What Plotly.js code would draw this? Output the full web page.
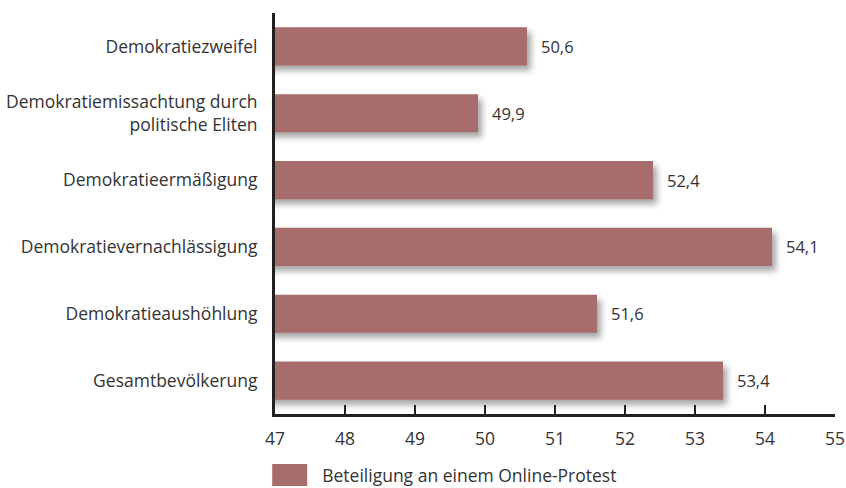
<!DOCTYPE html>
<html><head><meta charset="utf-8">
<script src="https://cdn.plot.ly/plotly-3.0.1.min.js"></script>
<style>
html,body{margin:0;padding:0;background:#fff;}
.trace.bars .point path{filter:drop-shadow(4px 5px 3px rgba(0,0,0,0.35));}
</style>
</head><body>
<div id="chart" style="width:846px;height:488px;"></div>
<script>
const categories = ["Demokratiezweifel","Demokratiemissachtung durch<br>politische Eliten","Demokratieermäßigung","Demokratievernachlässigung","Demokratieaushöhlung","Gesamtbevölkerung"];
const values = [50.6, 49.9, 52.4, 54.1, 51.6, 53.4];
const tickVals = [47,48,49,50,51,52,53,54,55];
const seriesName = "Beteiligung an einem Online-Protest";

const trace = {
  type: 'bar', orientation: 'h',
  y: categories, x: values,
  name: seriesName, showlegend: true,
  marker: {color: '#a76c6c', line: {width: 0}},
  width: 0.57,
  texttemplate: '\u2002\u2009%{x:.1f}', textposition: 'outside', cliponaxis: false,
  constraintext: 'none',
  textfont: {family: 'Open Sans', size: 16.5, color: '#333'},
  hoverinfo: 'none'
};

const layout = {
  width: 846, height: 488,
  margin: {l: 275, r: 11, t: 13, b: 74},
  separators: ',.',
  paper_bgcolor: '#fff', plot_bgcolor: '#fff',
  font: {family: 'Open Sans', color: '#333'},
  xaxis: {
    range: [47, 55], tickvals: tickVals,
    showgrid: false, zeroline: false,
    showline: true, linecolor: '#231f20', linewidth: 3,
    ticks: 'inside', ticklen: 9, tickwidth: 2, tickcolor: '#231f20',
    tickfont: {size: 17.5, color: '#333'}, ticklabelstandoff: 7
  },
  yaxis: {
    autorange: 'reversed', showgrid: false, zeroline: false,
    showline: true, linecolor: '#231f20', linewidth: 3,
    ticks: '', tickfont: {size: 17.5, color: '#333'}, ticklabelstandoff: 11
  },
  showlegend: true,
  legend: {orientation: 'h', x: -0.005, xanchor: 'left', yref: 'container', y: 0, yanchor: 'bottom',
           font: {size: 17.5, color: '#333'}, itemwidth: 40, bgcolor: 'rgba(0,0,0,0)'}
};

Plotly.newPlot('chart', [trace], layout, {staticPlot: true}).then(() => {
  document.querySelectorAll('.legendpoints path').forEach(p => {
    p.setAttribute('d', 'M10,11H-26V-11H10Z');
    p.style.filter = 'none';
  });
  const lg = document.querySelector('g.legend');
  if (lg) {
    const t = lg.getAttribute('transform') || '';
    const m = t.match(/translate\(([-\d.]+)[ ,]+([-\d.]+)\)/);
    if (m) lg.setAttribute('transform', 'translate(' + m[1] + ',' + (parseFloat(m[2]) + 5) + ')');
  }
});
</script>
</body></html>
